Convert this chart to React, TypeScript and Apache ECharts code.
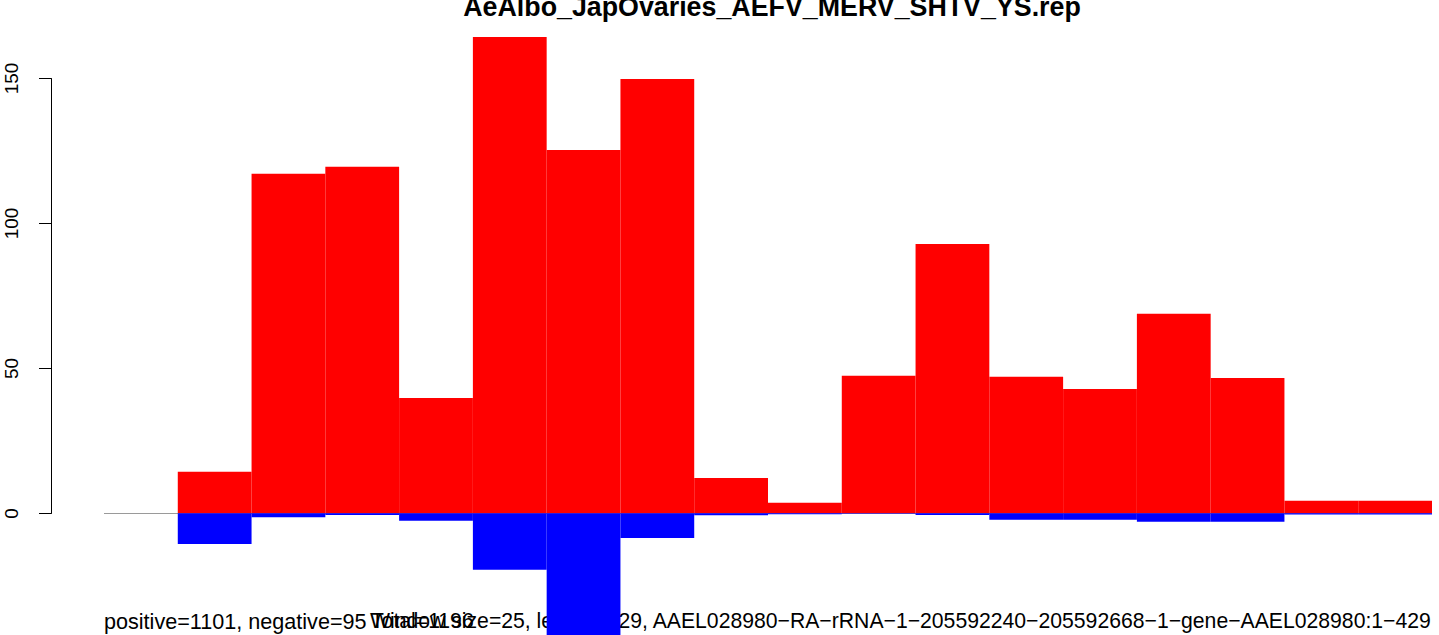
import React, { useEffect, useRef } from "react";
import * as echarts from "echarts";

const titleText = "AeAlbo_JapOvaries_AEFV_MERV_SHTV_YS.rep";
const windowStarts = ["1", "26", "51", "76", "101", "126", "151", "176", "201", "226", "251", "276", "301", "326", "351", "376", "401", "426"];
const positiveValues = [0, 14.3, 117.1, 119.5, 39.8, 164.3, 125.3, 149.8, 12.2, 3.6, 47.4, 92.9, 47.1, 42.9, 68.8, 46.7, 4.3, 4.3];
const negativeValues = [0, -10.6, -1.4, -0.6, -2.6, -19.5, -45, -8.5, -0.7, -0.3, -0.2, -0.6, -2.2, -2.2, -2.9, -2.9, -0.4, -0.4];
const yTicks = [0, 50, 100, 150];
const leftNote = "positive=1101, negative=95";
const totalNote = "Total=1196";
const rightNote = "Window size=25, length=429, AAEL028980\u2212RA\u2212rRNA\u22121\u2212205592240\u2212205592668\u22121\u2212gene\u2212AAEL028980:1\u2212429";

const FONT = "'Liberation Sans', Arial, Helvetica, sans-serif";

export default function App() {
  const ref = useRef<HTMLDivElement>(null);
  useEffect(() => {
    if (!ref.current) return;
    const chart = echarts.init(ref.current, undefined, { renderer: "svg" });
    chart.setOption({
      animation: false,
      backgroundColor: "#ffffff",
      title: {
        text: titleText,
        left: 767,
        textAlign: "center",
        top: -12,
        textStyle: { fontFamily: FONT, fontWeight: "bold", fontSize: 26.8, color: "#000" },
      },
      grid: [
        { left: 104, right: 7, top: 6, height: 629.3, containLabel: false },
        { left: 51, top: 78.5, height: 435, width: 10, containLabel: false },
      ],
      xAxis: [
        { type: "category", data: windowStarts, gridIndex: 0, show: false, boundaryGap: true },
        { type: "value", gridIndex: 1, show: false },
      ],
      yAxis: [
        { type: "value", gridIndex: 0, min: -42, max: 175, show: false },
        {
          type: "value",
          gridIndex: 1,
          min: yTicks[0],
          max: yTicks[yTicks.length - 1],
          interval: 50,
          axisLine: { show: true, lineStyle: { color: "#000", width: 1 } },
          axisTick: { show: true, length: 12, lineStyle: { color: "#000", width: 1 } },
          axisLabel: { rotate: 90, fontSize: 19, fontFamily: FONT, color: "#000", margin: 30 },
          splitLine: { show: false },
        },
      ],
      series: [
        {
          type: "line",
          data: [],
          xAxisIndex: 0,
          yAxisIndex: 0,
          z: 1,
          markLine: {
            silent: true,
            symbol: "none",
            z: 1,
            label: { show: false },
            lineStyle: { color: "#9a9a9a", width: 1, type: "solid" },
            data: [{ yAxis: 0 }],
          },
        },
        {
          type: "bar",
          name: "positive",
          data: positiveValues,
          xAxisIndex: 0,
          yAxisIndex: 0,
          barWidth: "100%",
          barGap: "-100%",
          barCategoryGap: 0,
          itemStyle: { color: "#ff0000" },
          z: 2,
        },
        {
          type: "bar",
          name: "negative",
          data: negativeValues,
          xAxisIndex: 0,
          yAxisIndex: 0,
          barWidth: "100%",
          barGap: "-100%",
          barCategoryGap: 0,
          itemStyle: { color: "#0000ff" },
          z: 3,
        },
      ],
      graphic: [
        {
          type: "text",
          left: 104,
          top: 610,
          style: { text: leftNote, fontSize: 21.6, fontFamily: FONT, fill: "#000" },
        },
        {
          type: "text",
          left: 371,
          top: 610,
          style: { text: totalNote, fontSize: 21.2, fontFamily: FONT, fill: "#000" },
        },
        {
          type: "text",
          right: 7,
          top: 610,
          style: { text: rightNote, fontSize: 21.2, fontFamily: FONT, fill: "#000" },
        },
      ],
    });
    return () => chart.dispose();
  }, []);
  return (
    <div
      ref={ref}
      style={{ position: "fixed", left: 0, top: 0, width: 1439, height: 635, background: "#fff" }}
    />
  );
}
